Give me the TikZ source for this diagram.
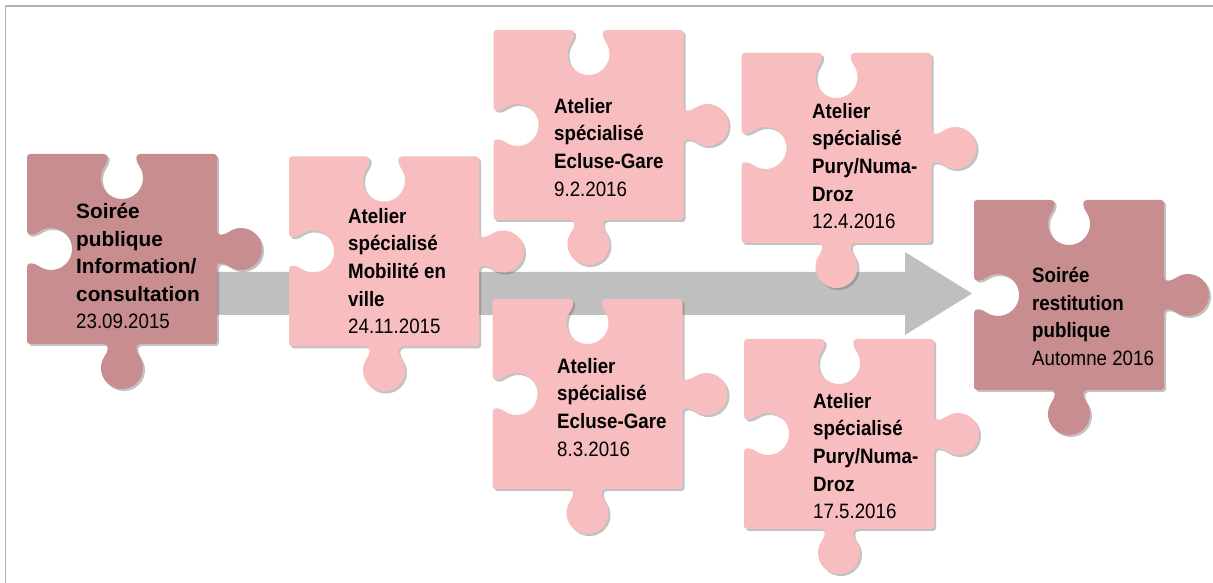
\documentclass[tikz,border=0pt]{standalone}
\usepackage{fontspec}
\setmainfont{Liberation Sans}
\newfontfamily\narrowfont{Liberation Sans}[FakeStretch=0.9]
\usetikzlibrary{shadows}
\definecolor{soirfill}{HTML}{C88D8E}
\definecolor{atelfill}{HTML}{F7BDBF}
\definecolor{flowgray}{HTML}{BFBFBF}
\definecolor{framegray}{HTML}{B3B3B3}
\newcommand\dt[1]{{\narrowfont\mdseries #1}}
\begin{document}
\begin{tikzpicture}[x=1pt,y=1pt,line join=round,
  txt/.style={anchor=north west,inner sep=0pt,align=left,
    font=\fontsize{20.8}{27.6}\selectfont\narrowfont\bfseries},
  widetxt/.style={txt,font=\fontsize{20.8}{27.6}\selectfont\bfseries},
  pics/piece/.style={code={
    \fill[#1,drop shadow={shadow xshift=2pt,shadow yshift=-2pt,opacity=.4,fill=black!60}]
      (-95,92) arc[start angle=180,end angle=90,radius=3]
      -- (-18,95) .. controls (-12,95) and (-14.3,87.1) .. (-17.2,83)
      arc[start angle=145,end angle=395,radius=21]
      .. controls (14.3,87.1) and (12,95) .. (18,95)
      -- (92,95) arc[start angle=90,end angle=0,radius=3]
      -- (95,18) .. controls (95,12) and (102.9,14.3) .. (107,17.2)
      arc[start angle=125,end angle=-125,radius=21]
      .. controls (102.9,-14.3) and (95,-12) .. (95,-18)
      -- (95,-92) arc[start angle=0,end angle=-90,radius=3]
      -- (18,-95) .. controls (12,-95) and (14.3,-102.9) .. (17.2,-107)
      arc[start angle=35,end angle=-215,radius=21]
      .. controls (-14.3,-102.9) and (-12,-95) .. (-18,-95)
      -- (-92,-95) arc[start angle=270,end angle=180,radius=3]
      -- (-95,-18) .. controls (-95,-12) and (-87.1,-14.3) .. (-83,-17.2)
      arc[start angle=-125,end angle=125,radius=21]
      .. controls (-87.1,14.3) and (-95,12) .. (-95,18) -- cycle;
  }}]
\useasboundingbox (0,0) rectangle (1213,583);
% frame
\draw[framegray,line width=1.2pt] (5.5,0) -- (5.5,577) -- (1213,577);
% flow arrow behind the pieces
\coordinate (start) at (200,289.5);
\coordinate (tip) at (972,289.5);
\fill[flowgray] (start) ++(0,21.5) -| (905,331) -- (tip) -- (905,248) |- ([yshift=-21.5pt]start) -- cycle;
% pieces
\begin{scope}[shift={(122,334)}]
  \pic {piece=soirfill};
  \node[widetxt] (soiree1) at (-46,46) {Soirée\\publique\\Information/\\consultation\\\dt{23.09.2015}};
\end{scope}
\begin{scope}[shift={(384,331.5)}]
  \pic {piece=atelfill};
  \node[txt] (mobilite) at (-36,43.5) {Atelier\\spécialisé\\Mobilité en\\ville\\\dt{24.11.2015}};
\end{scope}
\begin{scope}[shift={(588.5,458)}]
  \pic {piece=atelfill};
  \node[txt] (ecluse1) at (-34.5,27) {Atelier\\spécialisé\\Ecluse-Gare\\\dt{9.2.2016}};
\end{scope}
\begin{scope}[shift={(587.5,189)}]
  \pic {piece=atelfill};
  \node[txt] (ecluse2) at (-30.5,36) {Atelier\\spécialisé\\Ecluse-Gare\\\dt{8.3.2016}};
\end{scope}
\begin{scope}[shift={(836.5,435)}]
  \pic {piece=atelfill};
  \node[txt] (pury1) at (-24.5,45) {Atelier\\spécialisé\\Pury/Numa-\\Droz\\\dt{12.4.2016}};
\end{scope}
\begin{scope}[shift={(839,149)}]
  \pic {piece=atelfill};
  \node[txt] (pury2) at (-26,41) {Atelier\\spécialisé\\Pury/Numa-\\Droz\\\dt{17.5.2016}};
\end{scope}
\begin{scope}[shift={(1069,288)}]
  \pic {piece=soirfill};
  \node[txt] (soiree2) at (-37,28) {Soirée\\restitution\\publique\\\dt{Automne 2016}};
\end{scope}
\end{tikzpicture}
\end{document}
